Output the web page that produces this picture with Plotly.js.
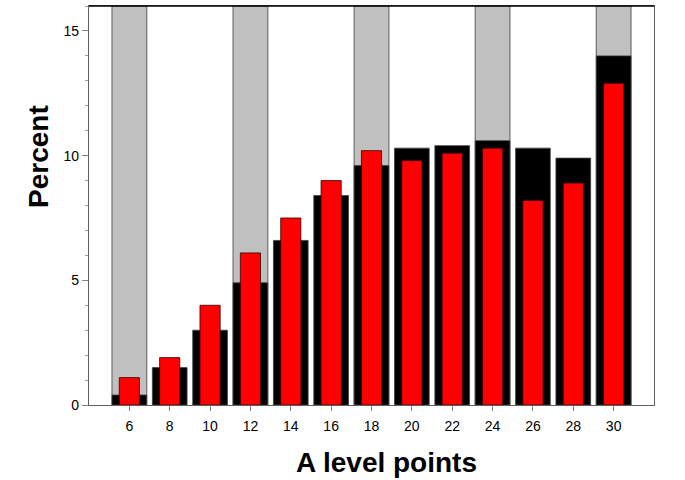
<!DOCTYPE html>
<html>
<head>
<meta charset="utf-8">
<script src="https://cdn.plot.ly/plotly-3.0.1.min.js"></script>
<style>html,body{margin:0;padding:0;background:#fff;}#chart{width:685px;height:480px;}</style>
</head>
<body>
<div id="chart"></div>
<script>
const points = [6, 8, 10, 12, 14, 16, 18, 20, 22, 24, 26, 28, 30];
const blackSeries = [0.4, 1.5, 3.0, 4.9, 6.6, 8.4, 9.6, 10.3, 10.4, 10.6, 10.3, 9.9, 14.0];
const redSeries = [1.1, 1.9, 4.0, 6.1, 7.5, 9.0, 10.2, 9.8, 10.1, 10.3, 8.2, 8.9, 12.9];
const shadedPoints = [6, 12, 18, 24, 30];
const shadedTop = [16, 16, 16, 16, 16];
const xTicks = [6, 8, 10, 12, 14, 16, 18, 20, 22, 24, 26, 28, 30];
const yTicks = [0, 5, 10, 15];
const xTitle = 'A level points';
const yTitle = 'Percent';

const traces = [
  {type: 'bar', x: shadedPoints, y: shadedTop, width: 1.72,
   marker: {color: '#c0c0c0', line: {color: '#707070', width: 1.2}}, hoverinfo: 'skip', showlegend: false},
  {type: 'bar', x: points, y: blackSeries, width: 1.72,
   marker: {color: '#000000', line: {color: '#404040', width: 0.8}}, showlegend: false},
  {type: 'bar', x: points, y: redSeries, width: 1.0,
   marker: {color: '#ff0000', line: {color: '#3a0000', width: 0.8}}, showlegend: false}
];

const layout = {
  width: 685, height: 480,
  margin: {l: 89, r: 31, t: 6, b: 75},
  barmode: 'overlay',
  paper_bgcolor: '#ffffff', plot_bgcolor: '#ffffff',
  font: {family: 'Liberation Sans, Arial, sans-serif', color: '#000'},
  xaxis: {
    range: [4, 32], tickvals: xTicks, ticktext: xTicks.map(String),
    ticks: 'outside', ticklen: 5, tickcolor: '#808080', tickwidth: 1,
    ticklabelstandoff: 3,
    showline: true, linecolor: '#606060', linewidth: 1.2, mirror: true,
    showgrid: false, zeroline: false,
    tickfont: {size: 14, color: '#000'}
  },
  yaxis: {
    range: [0, 16], tickvals: yTicks, ticktext: yTicks.map(String),
    ticks: 'outside', ticklen: 6, tickcolor: '#808080', tickwidth: 1,
    minor: {dtick: 1, ticks: 'outside', ticklen: 3, tickcolor: '#a0a0a0', showgrid: false},
    showline: true, linecolor: '#606060', linewidth: 1.2, mirror: true,
    showgrid: false, zeroline: false,
    tickfont: {size: 14, color: '#000'}
  },
  annotations: [
    {text: '<b>' + xTitle + '</b>', xref: 'paper', yref: 'paper', x: 0.5266, y: -0.143,
     xanchor: 'center', yanchor: 'middle', showarrow: false, font: {size: 28, color: '#000'}},
    {text: '<b>' + yTitle + '</b>', xref: 'paper', yref: 'paper', x: -0.0904, y: 0.624,
     xanchor: 'center', yanchor: 'middle', textangle: -90, showarrow: false, font: {size: 28, color: '#000'}}
  ],
  shapes: [
    {type: 'line', xref: 'paper', yref: 'paper', x0: 0, x1: 1, y0: 1, y1: 1, line: {color: '#000', width: 1.5}}
  ]
};

Plotly.newPlot('chart', traces, layout, {staticPlot: true, displayModeBar: false});
</script>
</body>
</html>
